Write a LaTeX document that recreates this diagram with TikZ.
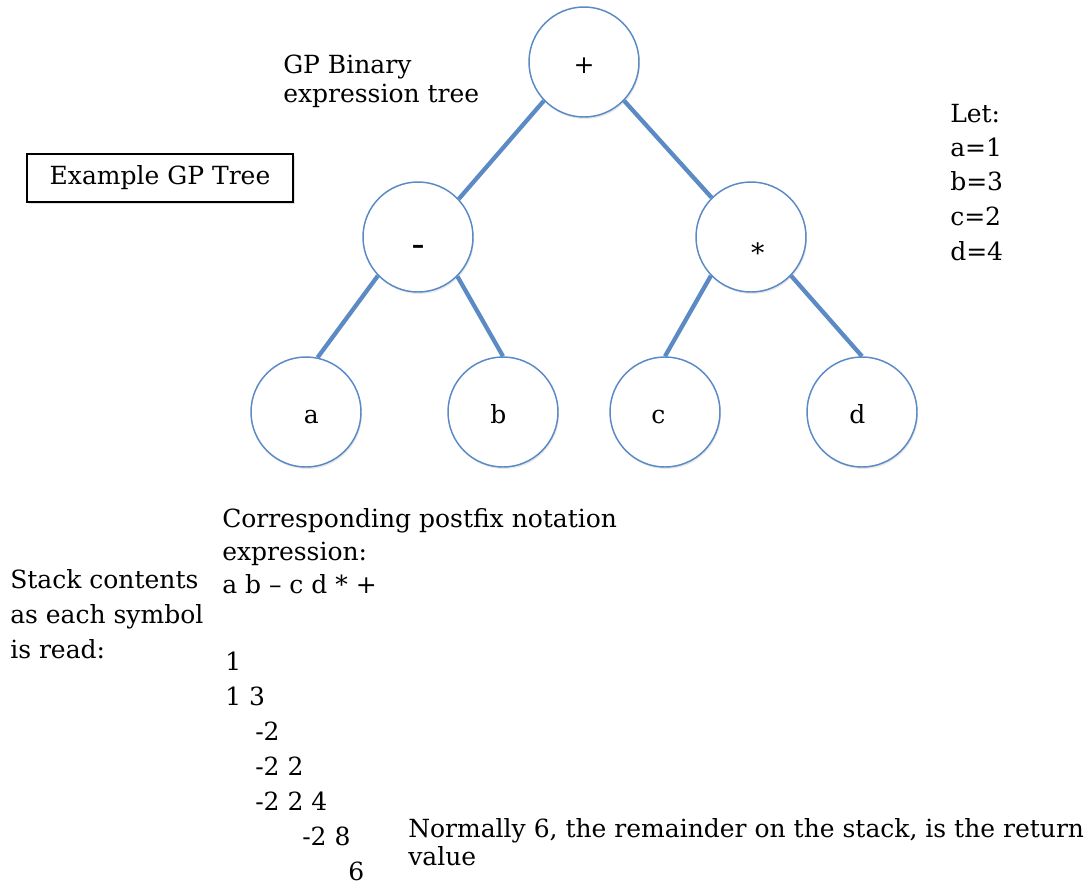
\documentclass[tikz,border=0pt]{standalone}
\usepackage{fontspec}
\setmainfont{DejaVu Serif}
\usetikzlibrary{shadows,backgrounds}
\definecolor{nodeblue}{HTML}{5A8AC6}
\definecolor{edgeblue}{HTML}{5B8AC4}
\begin{document}
\begin{tikzpicture}[x=0.75pt,y=-0.75pt,
  every node/.style={font=\fontsize{18.75pt}{25.9pt}\selectfont},
  treenode/.style={circle, draw=nodeblue, line width=1.1pt, fill=white,
    minimum size=82.5pt, inner sep=0pt, text height=0pt, text depth=0pt,
    drop shadow={opacity=0.18, shadow xshift=0.8pt, shadow yshift=-1.5pt}},
  edge/.style={draw=edgeblue, line width=3.2pt},
  txt/.style={anchor=base west, inner sep=0pt},
  titlebox/.style={draw=black, line width=1.1pt, fill=white,
    minimum width=199.5pt, minimum height=36pt, inner sep=0pt,
    drop shadow={opacity=0.25, shadow xshift=1.2pt, shadow yshift=-1.8pt}}
]
\useasboundingbox (0,0) rectangle (1089,890);

% tree nodes
\node[treenode] (root)  at (584,62)  {\raisebox{-8.25pt}{+}};
\node[treenode] (minus) at (418,237) {\raisebox{-12.4pt}{\textbf{–}}};
\node[treenode] (star)  at (751,237) {\hspace*{10pt}\raisebox{-18.75pt}{\fontsize{20pt}{20pt}\selectfont *}};
\node[treenode] (a) at (306,412) {\hspace*{8pt}\raisebox{-8.25pt}{a}};
\node[treenode] (b) at (503,412) {\raisebox{-8.25pt}{b}\hspace*{7pt}};
\node[treenode] (c) at (665,412) {\raisebox{-8.25pt}{c}\hspace*{10pt}};
\node[treenode] (d) at (862,412) {\raisebox{-8.25pt}{d}\hspace*{7pt}};

\begin{pgfonlayer}{background}
\draw[edge] (root.224) -- (minus.43);
\draw[edge] (root.316) -- (star.135);
\draw[edge] (minus.224) -- (a.78);
\draw[edge] (minus.315) -- (b.90);
\draw[edge] (star.224) -- (c.90);
\draw[edge] (star.316) -- (d.90);
\end{pgfonlayer}

% title box
\node[titlebox] (title) at (160,178) {Example GP Tree};

% labels
\node[txt] (gp1) at (283,73) {GP Binary};
\node[txt] (gp2) at (283,102) {expression tree};

\node[txt] (let0) at (950,122) {Let:};
\node[txt] (let1) at (950,156) {a=1};
\node[txt] (let2) at (950,190) {b=3};
\node[txt] (let3) at (950,225) {c=2};
\node[txt] (let4) at (950,260) {d=4};

\node[txt] (pf1) at (222,527) {Corresponding postfix notation};
\node[txt] (pf2) at (222,560) {expression:};
\node[txt] (pf3) at (222,593) {a b – c d * +};

\node[txt] (sc1) at (10,588) {Stack contents};
\node[txt] (sc2) at (10,623) {as each symbol};
\node[txt] (sc3) at (10,658) {is read:};

\node[txt] (s1) at (225,670) {1};
\node[txt] (s2) at (225,705) {1 3};
\node[txt] (s3) at (255,740) {-2};
\node[txt] (s4) at (255,775) {-2 2};
\node[txt] (s5) at (255,810) {-2 2 4};
\node[txt] (s6) at (302,845) {-2 8};
\node[txt] (s7) at (348,880) {6};

\node[txt] (n1) at (408,837) {Normally 6, the remainder on the stack, is the return};
\node[txt] (n2) at (408,865) {value};
\end{tikzpicture}
\end{document}
